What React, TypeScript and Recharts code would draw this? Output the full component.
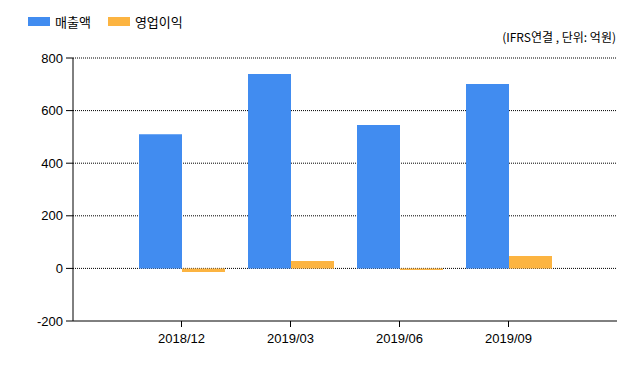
import React from 'react';
import {
  BarChart,
  Bar,
  XAxis,
  YAxis,
  CartesianGrid,
} from 'recharts';

const QUARTERS = ['2018/12', '2019/03', '2019/06', '2019/09'];
const REVENUE = [510, 739, 545, 701];
const OPERATING_PROFIT = [-14, 28, -6, 47];
const Y_TICKS = [-200, 0, 200, 400, 600, 800];

const SERIES = [
  { key: 'revenue', name: '매출액', color: '#418CF0' },
  { key: 'profit', name: '영업이익', color: '#FCB441' },
];

const chartData = QUARTERS.map((q, i) => ({
  quarter: q,
  revenue: REVENUE[i],
  profit: OPERATING_PROFIT[i],
}));

const KR_FONT = '"Noto Sans CJK KR", "Noto Sans", sans-serif';
const TICK_FONT = '"Liberation Sans", Arial, sans-serif';

export default function App() {
  return (
    <div style={{ position: 'absolute', left: 0, top: 0, width: 640, height: 368, background: '#fff' }}>
      <div
        style={{
          position: 'absolute',
          left: 28,
          top: 12,
          display: 'flex',
          alignItems: 'center',
          fontFamily: KR_FONT,
          fontSize: 13,
          color: '#000',
        }}
      >
        {SERIES.map((s) => (
          <div key={s.key} style={{ display: 'flex', alignItems: 'center', marginRight: 17 }}>
            <span style={{ display: 'inline-block', width: 22, height: 9, background: s.color, marginRight: 5 }} />
            <span>{s.name}</span>
          </div>
        ))}
      </div>
      <BarChart
        width={640}
        height={368}
        data={chartData}
        margin={{ top: 58, right: 23, left: 0, bottom: 17 }}
        barGap={0}
        barSize={43}
      >
        <CartesianGrid
          vertical={false}
          stroke="#000"
          strokeDasharray="1 1"
          horizontalValues={[0, 200, 400, 600, 800]}
        />
        <XAxis
          dataKey="quarter"
          padding={{ left: 54, right: 54 }}
          axisLine={{ stroke: '#000' }}
          tickLine={{ stroke: '#000' }}
          tickSize={6}
          tick={{ fill: '#000', fontSize: 13, fontFamily: TICK_FONT }}
          tickMargin={7}
          height={30}
        />
        <YAxis
          domain={[-200, 800]}
          ticks={Y_TICKS}
          width={73}
          axisLine={{ stroke: '#000' }}
          tickLine={{ stroke: '#000' }}
          tickSize={7}
          tick={{ fill: '#000', fontSize: 13, fontFamily: TICK_FONT }}
          tickMargin={3}
        />
        {SERIES.map((s) => (
          <Bar key={s.key} dataKey={s.key} name={s.name} fill={s.color} isAnimationActive={false} />
        ))}
      </BarChart>
      <div
        style={{
          position: 'absolute',
          right: 24,
          top: 28,
          fontFamily: KR_FONT,
          fontSize: 12,
          color: '#000',
          whiteSpace: 'nowrap',
        }}
      >
        (IFRS연결 , 단위: 억원)
      </div>
    </div>
  );
}
